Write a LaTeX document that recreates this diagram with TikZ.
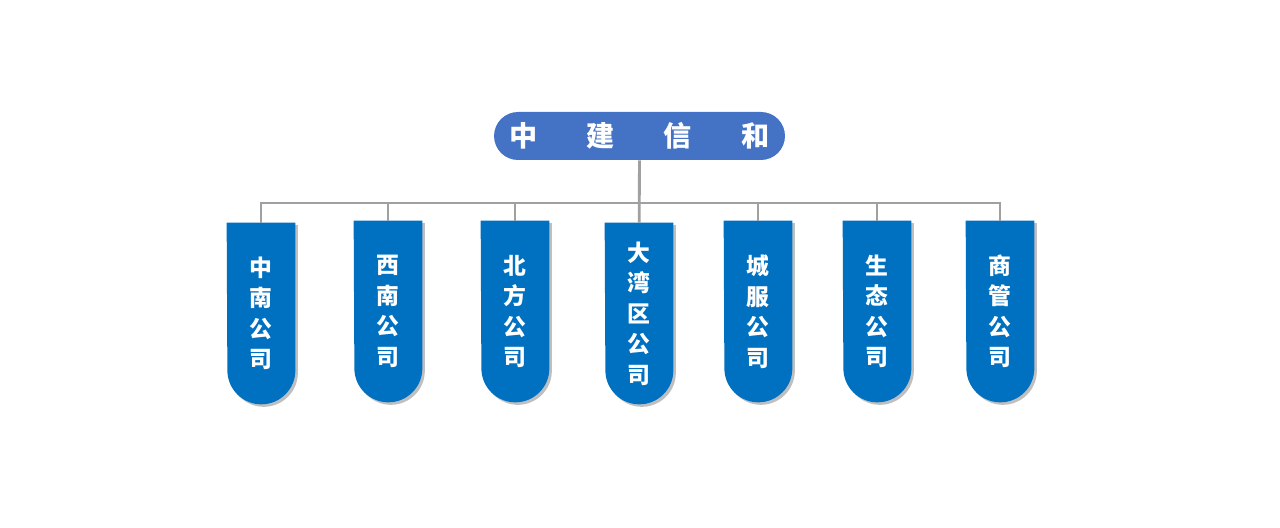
\documentclass[tikz,border=0pt]{standalone}
\usepackage{fontspec}
\newfontfamily\cjk{Noto Sans CJK SC}
\usetikzlibrary{positioning,shadows,backgrounds}
\definecolor{rootblue}{HTML}{4472C4}
\definecolor{tabblue}{HTML}{0070C0}
\definecolor{linegray}{HTML}{A0A0A0}

\tikzset{
  rootbox/.style={rectangle, rounded corners=0.48cm, fill=rootblue, minimum width=5.82cm, minimum height=0.96cm, inner sep=0pt, text=white, font=\cjk\bfseries\fontsize{16pt}{18pt}\selectfont},
  tabbox/.style={rectangle, minimum width=1.36cm, minimum height=3.62cm, inner sep=0pt, text=white, align=center, font=\cjk\bfseries\fontsize{13pt}{0.61cm}\selectfont},
  tabfill/.style={fill=tabblue, drop shadow={shadow xshift=0.05cm, shadow yshift=-0.05cm, fill=black, opacity=0.25}},
  link/.style={draw=linegray, line width=1.6pt}
}
\newcommand{\tabshape}[1]{\fill[tabfill] (#1.north west) -- (#1.north east) -- ([yshift=0.68cm]#1.south east) arc[start angle=0, end angle=-180, radius=0.68cm] -- cycle;}

\begin{document}
\begin{tikzpicture}[x=0.02cm, y=0.02cm]
        \useasboundingbox (0,0) rectangle (1280,527);

        \node[rootbox] (root) at (639.5,391) {中\hspace{0.98cm}建\hspace{0.98cm}信\hspace{0.98cm}和};

        \node[tabbox] (zhongnan) at (261,213.5) {中\\南\\公\\司};
        \node[tabbox] (xinan) at (388,215.5) {西\\南\\公\\司};
        \node[tabbox] (beifang) at (515,215.5) {北\\方\\公\\司};
        \node[tabbox] (dawanqu) at (639,213.5) {大\\湾\\区\\公\\司};
        \node[tabbox] (chengfu) at (758,215.5) {城\\服\\公\\司};
        \node[tabbox] (shengtai) at (877,215.5) {生\\态\\公\\司};
        \node[tabbox] (shangguan) at (1000,215.5) {商\\管\\公\\司};

        \begin{scope}[on background layer]
          \foreach \n in {zhongnan,xinan,beifang,dawanqu,chengfu,shengtai,shangguan}{
            \tabshape{\n}
          }
        \end{scope}

        \coordinate (bar) at (639,324);

        \path[link] (root) -- (dawanqu);
        \path[link] (zhongnan.north) |- (bar) -| (shangguan.north);
        \foreach \n in {xinan,beifang,chengfu,shengtai}
          \path[link] (\n.north) -- (\n.north |- bar);
\end{tikzpicture}
\end{document}
